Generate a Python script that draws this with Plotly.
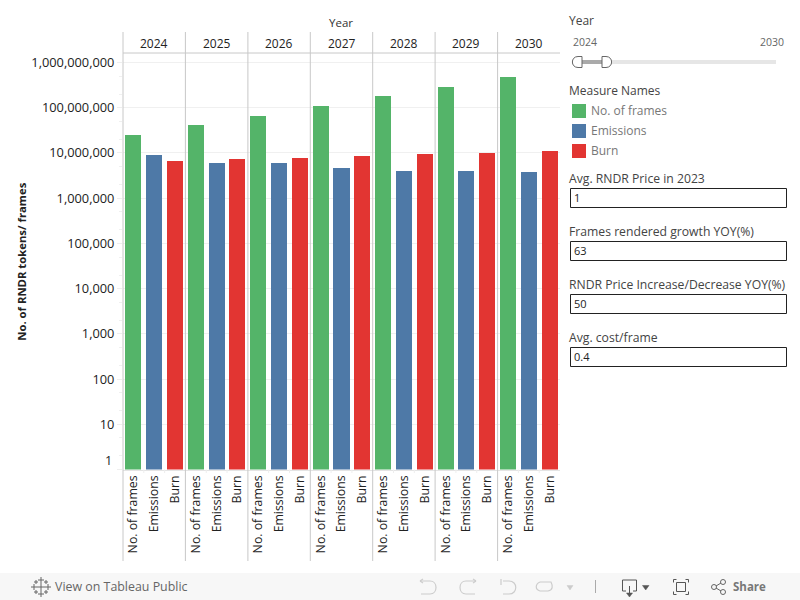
import plotly.graph_objects as go

years = ["2024", "2025", "2026", "2027", "2028", "2029", "2030"]
measures = ["No. of frames", "Emissions", "Burn"]
colors = ["#54B469", "#4E79A7", "#E23532"]
frames = [24900000, 41400000, 65500000, 110000000, 178000000, 290000000, 475000000]
emissions = [9000000, 6000000, 6000000, 4700000, 4000000, 4000000, 3800000]
burn = [6600000, 7300000, 7700000, 8600000, 9500000, 10000000, 11000000]
series = [frames, emissions, burn]
y_ticks = [1, 10, 100, 1000, 10000, 100000, 1000000, 10000000, 100000000, 1000000000]
params = [("Avg. RNDR Price in 2023", "1"), ("Frames rendered growth YOY(%)", "63"),
          ("RNDR Price Increase/Decrease YOY(%)", "50"), ("Avg. cost/frame", "0.4")]

FONT = "Open Sans"
W, H = 800, 600
def fx(x): return x / W
def fy(y): return 1 - y / H

fig = go.Figure()
n = len(measures)
for m, (name, vals, col) in enumerate(zip(measures, series, colors)):
    fig.add_trace(go.Bar(
        x=[i * n + m for i in range(len(years))], y=vals, name=name,
        marker=dict(color=col, line=dict(width=0)), width=0.77, showlegend=False,
        hovertemplate=name + ": %{y:,}<extra></extra>"))

tickvals = [i * n + m for i in range(len(years)) for m in range(n)]
ticktext = [measures[m] for i in range(len(years)) for m in range(n)]

shapes, ann = [], []
def line(x0, y0, x1, y1, color="#c8c8c8", w=1):
    shapes.append(dict(type="line", xref="paper", yref="paper", x0=fx(x0), x1=fx(x1), y0=fy(y0), y1=fy(y1),
                       line=dict(color=color, width=w), layer="above"))
def rect(x0, y0, x1, y1, fill="rgba(0,0,0,0)", color=None, w=1, layer="above"):
    shapes.append(dict(type="rect", xref="paper", yref="paper", x0=fx(x0), x1=fx(x1), y0=fy(y0), y1=fy(y1),
                       fillcolor=fill, line=dict(color=color or fill, width=w if color else 0), layer=layer))
def path(pts, color="#bbb", w=1.2, fill=None):
    out = []
    for c in pts:
        if c == "Z":
            out.append("Z")
        else:
            vals = c[1:]
            coords = " ".join(f"{fx(vals[k]):.5f},{fy(vals[k+1]):.5f}" for k in range(0, len(vals), 2))
            out.append(c[0] + coords)
    shapes.append(dict(type="path", xref="paper", yref="paper", path=" ".join(out),
                       line=dict(color=color, width=w), fillcolor=fill or "rgba(0,0,0,0)", layer="above"))
def text(x, y, s, size=12, color="#333", anchor="left"):
    dx = {"left": -2, "right": 2, "center": 0}[anchor]
    ann.append(dict(xref="paper", yref="paper", x=fx(x + dx), y=fy(y - 0.4), text=s, showarrow=False, xanchor=anchor,
                    yanchor="middle", font=dict(family=FONT, size=size, color=color)))

# pane frame and year header
for vx in [123, 185.4, 247.9, 310.3, 372.7, 435.1, 497.6]:
    line(vx, 32, vx, 561)
line(123, 53, 560, 53)
for i, yr in enumerate(years):
    ann.append(dict(xref="x", yref="paper", x=i * n + 1, y=fy(43.5), text=yr, showarrow=False,
                    font=dict(family=FONT, size=12, color="#222"), xanchor="center", yanchor="middle"))
    for m in (0, 1):
        ann_x = 123 + (i * n + m + 1) * (437 / 21)
        line(ann_x, 469.5, ann_x, 473, "#eeeeee")
text(341, 23, "Year", 11.5, "#333", "center")
text(112, 461, "1", 12.6, "#222", "right")

# right side: slider
text(569, 21, "Year", 12, "#444")
text(573, 42, years[0], 10.5, "#666")
text(784, 42, years[-1], 10.5, "#666", "right")
rect(578, 60, 776, 64, "#e6e6e6")
rect(582, 60, 602, 64, "#aaaaaa")
path([("M", 582, 56.5), ("L", 578, 56.5), ("C", 570.5, 56.5, 570.5, 67.5, 578, 67.5), ("L", 582, 67.5), "Z"], "#666", 1, "#ffffff")
path([("M", 602, 56.5), ("L", 606, 56.5), ("C", 613.5, 56.5, 613.5, 67.5, 606, 67.5), ("L", 602, 67.5), "Z"], "#666", 1, "#ffffff")

# colour key
text(569, 91, "Measure Names", 12, "#444")
for j, (name, col) in enumerate(zip(measures, colors)):
    rect(572, 104 + 20 * j, 586, 118 + 20 * j, col)
    text(591, 111 + 20 * j, name, 12, "#777")

# parameter controls
for j, (label, val) in enumerate(params):
    text(569, 179 + 53 * j, label, 12.2, "#444")
    rect(570.5, 188.5 + 53 * j, 786.5, 207.5 + 53 * j, "#ffffff", "#222", 1)
    text(574, 198 + 53 * j, val, 11, "#222")

# bottom toolbar
rect(0, 573, 800, 600, "#f7f7f7")
text(55, 587, "View on Tableau Public", 12.4, "#666")
text(733, 587, "<b>Share</b>", 11.5, "#777")
# Tableau logo
for (cx, cy, r) in [(41, 587, 4), (41, 580, 3), (41, 594, 3), (34, 587, 3), (48, 587, 3), (36, 582, 2), (46, 582, 2), (36, 592, 2), (46, 592, 2)]:
    line(cx - r, cy, cx + r, cy, "#666", 1)
    line(cx, cy - r, cx, cy + r, "#666", 1)
# undo / redo / revert / refresh
path([("M", 420, 581), ("L", 430, 581), ("C", 438, 581, 438, 594, 430, 594), ("L", 421, 594)], "#cccccc")
path([("M", 420, 581), ("L", 423, 579)], "#cccccc"); path([("M", 420, 581), ("L", 423, 583)], "#cccccc")
path([("M", 476, 581), ("L", 466, 581), ("C", 458, 581, 458, 594, 466, 594), ("L", 475, 594)], "#cccccc")
path([("M", 476, 581), ("L", 473, 579)], "#cccccc"); path([("M", 476, 581), ("L", 473, 583)], "#cccccc")
path([("M", 503, 581), ("L", 509, 581), ("C", 518, 581, 518, 594, 509, 594), ("L", 503, 594)], "#cccccc")
path([("M", 501, 579), ("L", 501, 585)], "#cccccc")
path([("M", 540, 582), ("L", 551, 582), ("C", 553, 586, 553, 590, 548, 591), ("L", 540, 591), ("C", 535, 590, 535, 584, 540, 582)], "#cccccc")
path([("M", 567, 585.5), ("L", 573, 585.5), ("L", 570, 590), "Z"], "#cccccc", 0.5, "#cccccc")
line(595.5, 580, 595.5, 593, "#aaaaaa")
# download
path([("M", 626, 591), ("L", 622.5, 591), ("L", 622.5, 580), ("L", 636.5, 580), ("L", 636.5, 591), ("L", 633, 591)], "#555", 1)
line(629.5, 586, 629.5, 595, "#555")
path([("M", 626.5, 593), ("L", 632.5, 593), ("L", 629.5, 597), "Z"], "#555", 0.5, "#555")
path([("M", 642.5, 585.5), ("L", 649, 585.5), ("L", 645.7, 590), "Z"], "#555", 0.5, "#555")
# fullscreen
for (x0, y0, dx, dy) in [(673.5, 579.5, 1, 1), (688.5, 579.5, -1, 1), (673.5, 594.5, 1, -1), (688.5, 594.5, -1, -1)]:
    path([("M", x0 + 3 * dx, y0), ("L", x0, y0), ("L", x0, y0 + 3 * dy)], "#555", 1)
rect(676.5, 582.5, 685.5, 591.5, "rgba(0,0,0,0)", "#555", 1)
# share
for (cx, cy) in [(714, 587), (723, 582), (723, 592)]:
    shapes.append(dict(type="circle", xref="paper", yref="paper", x0=fx(cx - 2.5), x1=fx(cx + 2.5), y0=fy(cy - 2.5), y1=fy(cy + 2.5),
                       line=dict(color="#666", width=1), layer="above"))
line(716, 586, 721, 583, "#666"); line(716, 588, 721, 591, "#666")

fig.update_layout(
    width=W, height=H, margin=dict(l=0, r=0, t=0, b=0), plot_bgcolor="#ffffff", paper_bgcolor="#ffffff",
    barmode="overlay", bargap=0, shapes=shapes, annotations=ann, font=dict(family=FONT, size=12, color="#222"),
    hovermode="closest",
    xaxis=dict(domain=[fx(123), fx(560)], range=[-0.5, 20.5], tickmode="array", tickvals=tickvals, ticktext=ticktext,
               tickangle=-90, showgrid=False, zeroline=False, showline=True, linecolor="#e4e4e4", ticks="",
               tickfont=dict(family=FONT, size=12.3, color="#222"), automargin=False, fixedrange=True),
    yaxis=dict(domain=[fy(469.5), fy(54)], type="log", range=[0, 9.188], tickmode="array", tickvals=y_ticks,
               ticktext=["" if v == 1 else f"{v:,}" for v in y_ticks], showgrid=True, gridcolor="#f0f0f0",
               zeroline=False, showline=False, ticks="outside", ticklen=5, tickcolor="#eeeeee",
               tickfont=dict(family=FONT, size=12.8, color="#222"), automargin=False, fixedrange=True,
               minor=dict(ticks="outside", ticklen=3, tickcolor="#f0f0f0", showgrid=False),
               title=dict(text="<b>No. of RNDR tokens/ frames</b>", standoff=2, font=dict(family=FONT, size=11.3, color="#222"))),
)
fig.write_html("out.html", config={"displayModeBar": False}, post_script="document.body.style.margin='0';")
